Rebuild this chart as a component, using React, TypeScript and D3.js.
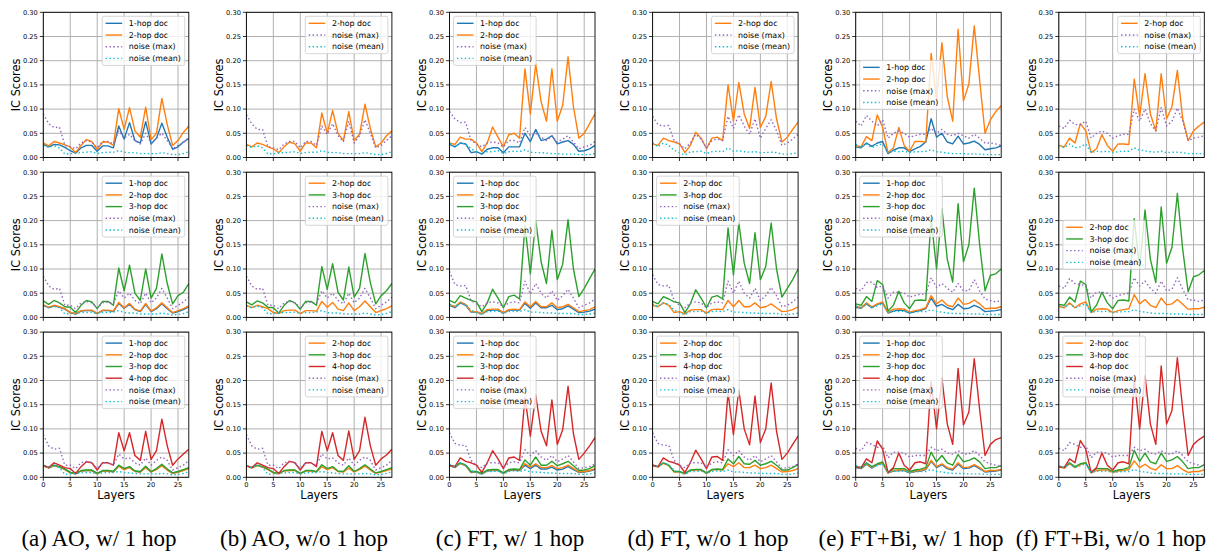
import React from 'react';
import * as d3 from 'd3';

// ---------- categories / ticks ----------
const layers = d3.range(0, 28);
const xTicks = [0, 5, 10, 15, 20, 25];
const yTicks = [0, 0.05, 0.1, 0.15, 0.2, 0.25, 0.3];
const captions = ['(a) AO, w/ 1 hop', '(b) AO, w/o 1 hop', '(c) FT, w/ 1 hop', '(d) FT, w/o 1 hop', '(e) FT+Bi, w/ 1 hop', '(f) FT+Bi, w/o 1 hop'];
const seriesLabels = ['1-hop doc', '2-hop doc', '3-hop doc', '4-hop doc', 'noise (max)', 'noise (mean)'];

// ---------- AO ----------
const ao1_w_h1 = [0.027,0.022,0.027,0.026,0.021,0.014,0.009,0.020,0.025,0.025,0.013,0.024,0.024,0.020,0.065,0.038,0.072,0.035,0.030,0.074,0.028,0.040,0.071,0.042,0.017,0.022,0.032,0.039];
const ao1_w_h2 = [0.030,0.024,0.033,0.030,0.026,0.022,0.010,0.025,0.037,0.033,0.017,0.032,0.032,0.025,0.101,0.058,0.103,0.055,0.042,0.104,0.037,0.050,0.122,0.068,0.025,0.035,0.052,0.065];
const ao1_w_max = [0.090,0.070,0.062,0.063,0.025,0.022,0.018,0.030,0.035,0.032,0.020,0.033,0.033,0.028,0.055,0.040,0.048,0.035,0.028,0.050,0.030,0.040,0.050,0.035,0.018,0.025,0.030,0.042];
const ao1_wo_h2 = [0.027,0.022,0.030,0.027,0.022,0.018,0.010,0.022,0.032,0.028,0.013,0.030,0.030,0.020,0.092,0.050,0.097,0.050,0.035,0.095,0.035,0.048,0.110,0.060,0.022,0.030,0.045,0.055];
const ao1_wo_max = [0.088,0.070,0.058,0.058,0.022,0.020,0.016,0.028,0.033,0.033,0.020,0.033,0.033,0.025,0.065,0.048,0.070,0.045,0.033,0.075,0.030,0.045,0.078,0.050,0.020,0.025,0.035,0.045];
const ao1_mean = [0.025,0.021,0.024,0.020,0.007,0.008,0.009,0.010,0.011,0.012,0.008,0.010,0.011,0.011,0.014,0.011,0.010,0.010,0.008,0.008,0.008,0.008,0.010,0.008,0.006,0.006,0.008,0.012];

const ao2_w_h1 = [0.025,0.020,0.024,0.021,0.017,0.010,0.007,0.013,0.014,0.014,0.008,0.014,0.014,0.012,0.029,0.019,0.027,0.016,0.012,0.027,0.012,0.018,0.028,0.018,0.009,0.012,0.016,0.022];
const ao2_w_h2 = [0.026,0.021,0.025,0.022,0.018,0.010,0.008,0.014,0.015,0.015,0.008,0.015,0.015,0.013,0.031,0.020,0.029,0.017,0.013,0.029,0.013,0.020,0.030,0.020,0.010,0.014,0.018,0.024];
const ao2_w_h3 = [0.034,0.027,0.035,0.030,0.022,0.021,0.010,0.025,0.035,0.032,0.018,0.033,0.033,0.025,0.102,0.055,0.108,0.050,0.035,0.100,0.040,0.060,0.131,0.070,0.028,0.045,0.052,0.070];
const ao2_wo_h2 = [0.025,0.020,0.025,0.022,0.018,0.010,0.008,0.014,0.015,0.015,0.008,0.014,0.014,0.013,0.033,0.021,0.031,0.017,0.014,0.030,0.014,0.022,0.034,0.022,0.010,0.014,0.018,0.024];
const ao2_wo_h3 = [0.032,0.026,0.034,0.030,0.021,0.020,0.009,0.025,0.035,0.030,0.017,0.033,0.033,0.025,0.105,0.058,0.111,0.052,0.036,0.104,0.042,0.060,0.132,0.072,0.028,0.045,0.055,0.070];
const ao2_max = [0.085,0.065,0.058,0.060,0.025,0.025,0.018,0.030,0.033,0.030,0.020,0.030,0.032,0.028,0.055,0.040,0.050,0.035,0.028,0.050,0.030,0.040,0.060,0.040,0.018,0.025,0.032,0.042];
const ao2_mean = [0.024,0.020,0.023,0.020,0.007,0.008,0.009,0.010,0.010,0.011,0.008,0.010,0.010,0.011,0.014,0.010,0.009,0.009,0.007,0.007,0.007,0.007,0.009,0.007,0.005,0.006,0.008,0.012];

const ao3_w_h1 = [0.024,0.020,0.024,0.021,0.017,0.010,0.007,0.013,0.014,0.014,0.008,0.013,0.013,0.012,0.024,0.017,0.021,0.013,0.011,0.022,0.011,0.017,0.025,0.016,0.009,0.011,0.015,0.019];
const ao3_w_h2 = [0.023,0.019,0.024,0.021,0.016,0.009,0.007,0.013,0.014,0.014,0.007,0.013,0.013,0.011,0.023,0.016,0.020,0.012,0.011,0.020,0.011,0.016,0.024,0.015,0.008,0.011,0.014,0.018];
const ao3_w_h3 = [0.024,0.020,0.025,0.022,0.017,0.010,0.008,0.014,0.015,0.015,0.008,0.014,0.014,0.012,0.025,0.018,0.022,0.013,0.012,0.023,0.012,0.018,0.027,0.017,0.009,0.012,0.016,0.020];
const ao3_w_h4 = [0.025,0.020,0.030,0.025,0.020,0.018,0.008,0.022,0.032,0.030,0.015,0.030,0.030,0.025,0.092,0.055,0.092,0.045,0.035,0.095,0.037,0.055,0.120,0.065,0.025,0.038,0.048,0.058];
const ao3_wo_h2 = [0.023,0.019,0.024,0.021,0.016,0.009,0.007,0.013,0.014,0.014,0.007,0.013,0.013,0.011,0.022,0.016,0.020,0.012,0.011,0.019,0.011,0.016,0.023,0.015,0.008,0.011,0.014,0.017];
const ao3_wo_h3 = [0.024,0.020,0.025,0.022,0.017,0.010,0.008,0.014,0.015,0.015,0.008,0.014,0.014,0.012,0.026,0.018,0.022,0.013,0.012,0.024,0.012,0.018,0.026,0.017,0.009,0.012,0.016,0.020];
const ao3_wo_h4 = [0.024,0.020,0.030,0.025,0.020,0.018,0.008,0.022,0.033,0.030,0.015,0.030,0.030,0.022,0.095,0.055,0.092,0.045,0.035,0.096,0.037,0.055,0.124,0.065,0.025,0.038,0.046,0.058];
const ao3_max = [0.088,0.065,0.058,0.060,0.025,0.025,0.018,0.030,0.033,0.030,0.018,0.030,0.030,0.025,0.048,0.038,0.040,0.030,0.025,0.040,0.025,0.035,0.042,0.035,0.015,0.020,0.025,0.035];
const ao3_mean = [0.024,0.020,0.025,0.020,0.006,0.007,0.008,0.009,0.010,0.010,0.007,0.009,0.010,0.010,0.012,0.010,0.009,0.008,0.007,0.007,0.007,0.007,0.008,0.007,0.005,0.006,0.008,0.012];

// ---------- FT ----------
const ft1_w_h1 = [0.027,0.022,0.030,0.028,0.010,0.012,0.007,0.017,0.020,0.020,0.010,0.022,0.022,0.022,0.050,0.033,0.058,0.035,0.038,0.045,0.028,0.032,0.035,0.027,0.013,0.014,0.018,0.025];
const ft1_w_h2 = [0.030,0.027,0.042,0.038,0.038,0.030,0.012,0.030,0.063,0.042,0.022,0.047,0.050,0.040,0.183,0.090,0.193,0.115,0.075,0.183,0.075,0.108,0.208,0.105,0.040,0.050,0.070,0.090];
const ft1_w_max = [0.095,0.080,0.072,0.073,0.035,0.028,0.022,0.030,0.032,0.030,0.022,0.035,0.035,0.030,0.062,0.045,0.050,0.042,0.035,0.045,0.032,0.038,0.045,0.032,0.018,0.022,0.025,0.033];
const ft1_w_mean = [0.030,0.022,0.030,0.028,0.018,0.012,0.007,0.012,0.012,0.014,0.008,0.012,0.013,0.012,0.016,0.011,0.010,0.010,0.009,0.008,0.008,0.007,0.007,0.007,0.006,0.006,0.006,0.008];
const ft1_wo_h2 = [0.028,0.025,0.040,0.035,0.032,0.028,0.010,0.025,0.052,0.040,0.018,0.040,0.042,0.035,0.150,0.075,0.155,0.090,0.060,0.145,0.062,0.085,0.157,0.080,0.032,0.042,0.058,0.073];
const ft1_wo_max = [0.085,0.068,0.065,0.066,0.035,0.028,0.018,0.030,0.048,0.038,0.020,0.035,0.038,0.035,0.085,0.060,0.088,0.065,0.048,0.080,0.040,0.060,0.078,0.055,0.025,0.030,0.038,0.048];
const ft1_wo_mean = [0.030,0.022,0.030,0.025,0.015,0.010,0.005,0.012,0.012,0.013,0.008,0.012,0.013,0.012,0.020,0.013,0.014,0.012,0.011,0.012,0.010,0.010,0.011,0.010,0.007,0.007,0.008,0.010];

const ft2_w_h1 = [0.025,0.020,0.030,0.025,0.011,0.011,0.007,0.014,0.015,0.015,0.009,0.015,0.015,0.015,0.029,0.019,0.030,0.020,0.020,0.025,0.016,0.018,0.024,0.017,0.010,0.011,0.013,0.017];
const ft2_w_h2 = [0.027,0.022,0.032,0.027,0.012,0.012,0.008,0.016,0.017,0.017,0.010,0.016,0.017,0.016,0.032,0.022,0.033,0.022,0.022,0.030,0.020,0.022,0.027,0.020,0.012,0.014,0.016,0.022];
const ft2_w_h3 = [0.035,0.030,0.045,0.040,0.035,0.032,0.012,0.030,0.058,0.040,0.020,0.043,0.046,0.038,0.190,0.090,0.200,0.115,0.070,0.180,0.078,0.110,0.202,0.100,0.043,0.060,0.080,0.100];
const ft2_w_max = [0.095,0.068,0.065,0.066,0.035,0.028,0.022,0.030,0.032,0.030,0.022,0.030,0.032,0.030,0.075,0.048,0.070,0.050,0.040,0.055,0.035,0.045,0.058,0.040,0.020,0.025,0.030,0.038];
const ft2_wo_h2 = [0.025,0.022,0.030,0.025,0.010,0.012,0.007,0.015,0.016,0.016,0.009,0.016,0.017,0.016,0.035,0.022,0.035,0.022,0.022,0.030,0.020,0.022,0.028,0.020,0.012,0.013,0.016,0.022];
const ft2_wo_h3 = [0.033,0.028,0.043,0.038,0.032,0.030,0.010,0.028,0.057,0.040,0.020,0.042,0.045,0.038,0.185,0.088,0.195,0.112,0.070,0.175,0.078,0.105,0.195,0.100,0.042,0.060,0.078,0.100];
const ft2_wo_max = [0.088,0.068,0.065,0.066,0.035,0.025,0.020,0.030,0.032,0.030,0.020,0.030,0.032,0.030,0.075,0.050,0.075,0.050,0.040,0.060,0.035,0.045,0.062,0.045,0.022,0.025,0.032,0.042];
const ft2_mean = [0.028,0.022,0.030,0.027,0.015,0.010,0.006,0.012,0.012,0.013,0.008,0.012,0.013,0.012,0.016,0.011,0.011,0.010,0.009,0.009,0.008,0.008,0.008,0.008,0.006,0.006,0.007,0.009];

const ft3_w_h1 = [0.024,0.020,0.029,0.024,0.010,0.011,0.007,0.013,0.014,0.014,0.008,0.014,0.015,0.014,0.025,0.018,0.025,0.017,0.017,0.021,0.015,0.017,0.022,0.016,0.010,0.011,0.013,0.016];
const ft3_w_h2 = [0.024,0.021,0.029,0.024,0.011,0.011,0.007,0.014,0.015,0.015,0.008,0.015,0.016,0.015,0.028,0.021,0.028,0.020,0.020,0.024,0.018,0.020,0.025,0.018,0.011,0.012,0.014,0.018];
const ft3_w_h3 = [0.025,0.022,0.030,0.025,0.012,0.012,0.008,0.015,0.016,0.016,0.009,0.016,0.017,0.016,0.036,0.025,0.042,0.025,0.025,0.033,0.024,0.028,0.033,0.024,0.014,0.015,0.018,0.024];
const ft3_w_h4 = [0.025,0.022,0.040,0.033,0.030,0.025,0.010,0.030,0.055,0.038,0.018,0.040,0.042,0.035,0.165,0.085,0.170,0.095,0.065,0.160,0.068,0.098,0.188,0.090,0.037,0.050,0.065,0.082];
const ft3_wo_h2 = [0.024,0.021,0.029,0.024,0.011,0.011,0.007,0.014,0.015,0.015,0.008,0.015,0.016,0.015,0.028,0.022,0.030,0.020,0.020,0.025,0.018,0.020,0.025,0.018,0.011,0.012,0.014,0.018];
const ft3_wo_h3 = [0.025,0.022,0.030,0.025,0.012,0.012,0.008,0.015,0.016,0.016,0.009,0.016,0.017,0.016,0.038,0.028,0.043,0.028,0.027,0.035,0.025,0.028,0.033,0.025,0.015,0.015,0.020,0.026];
const ft3_wo_h4 = [0.025,0.022,0.040,0.033,0.030,0.025,0.010,0.030,0.056,0.038,0.018,0.042,0.043,0.035,0.175,0.088,0.180,0.100,0.067,0.168,0.072,0.100,0.195,0.095,0.037,0.050,0.068,0.085];
const ft3_max = [0.092,0.070,0.066,0.066,0.035,0.025,0.020,0.030,0.030,0.030,0.020,0.030,0.032,0.030,0.057,0.045,0.055,0.042,0.035,0.045,0.032,0.038,0.045,0.032,0.018,0.020,0.022,0.028];
const ft3_mean = [0.027,0.022,0.030,0.026,0.014,0.010,0.006,0.012,0.012,0.013,0.008,0.012,0.013,0.012,0.015,0.011,0.011,0.010,0.009,0.009,0.008,0.008,0.008,0.008,0.006,0.006,0.007,0.009];

// ---------- FT+Bi ----------
const fb1_w_h1 = [0.022,0.020,0.030,0.023,0.030,0.033,0.008,0.015,0.020,0.020,0.012,0.018,0.023,0.032,0.080,0.042,0.050,0.032,0.028,0.044,0.028,0.030,0.034,0.027,0.016,0.018,0.020,0.024];
const fb1_w_h2 = [0.025,0.022,0.043,0.035,0.088,0.062,0.010,0.020,0.062,0.025,0.013,0.033,0.033,0.032,0.215,0.120,0.237,0.125,0.075,0.265,0.117,0.152,0.272,0.160,0.050,0.078,0.095,0.107];
const fb1_w_max = [0.075,0.065,0.087,0.075,0.065,0.078,0.040,0.050,0.055,0.050,0.042,0.045,0.048,0.048,0.060,0.050,0.058,0.048,0.045,0.050,0.045,0.040,0.048,0.040,0.030,0.030,0.028,0.025];
const fb1_w_mean = [0.027,0.022,0.028,0.020,0.025,0.028,0.010,0.013,0.012,0.013,0.010,0.012,0.012,0.013,0.016,0.012,0.011,0.009,0.008,0.008,0.008,0.007,0.007,0.007,0.006,0.006,0.006,0.006];
const fb1_wo_h2 = [0.025,0.022,0.040,0.030,0.070,0.055,0.010,0.018,0.047,0.025,0.013,0.028,0.028,0.027,0.162,0.085,0.173,0.090,0.055,0.173,0.080,0.105,0.180,0.080,0.035,0.055,0.065,0.073];
const fb1_wo_max = [0.065,0.060,0.077,0.068,0.068,0.075,0.040,0.050,0.055,0.050,0.040,0.045,0.048,0.048,0.100,0.075,0.100,0.070,0.055,0.103,0.065,0.075,0.102,0.075,0.035,0.040,0.042,0.045];
const fb1_wo_mean = [0.025,0.020,0.028,0.020,0.022,0.028,0.010,0.013,0.012,0.013,0.010,0.012,0.013,0.013,0.020,0.015,0.014,0.012,0.011,0.013,0.010,0.011,0.011,0.010,0.008,0.008,0.008,0.008];

const fb2_w_h1 = [0.021,0.019,0.028,0.020,0.027,0.030,0.009,0.013,0.015,0.014,0.009,0.012,0.014,0.018,0.040,0.023,0.027,0.020,0.016,0.027,0.018,0.019,0.025,0.020,0.012,0.013,0.014,0.016];
const fb2_w_h2 = [0.023,0.020,0.030,0.022,0.028,0.032,0.010,0.017,0.018,0.017,0.011,0.014,0.016,0.020,0.045,0.028,0.036,0.025,0.022,0.040,0.027,0.029,0.036,0.028,0.018,0.019,0.019,0.022];
const fb2_w_h3 = [0.028,0.025,0.043,0.033,0.076,0.068,0.013,0.025,0.054,0.030,0.018,0.035,0.036,0.035,0.205,0.100,0.225,0.120,0.073,0.235,0.115,0.150,0.267,0.150,0.055,0.087,0.090,0.100];
const fb2_w_max = [0.060,0.055,0.072,0.073,0.062,0.065,0.040,0.052,0.052,0.050,0.042,0.045,0.048,0.048,0.082,0.062,0.070,0.060,0.052,0.070,0.055,0.055,0.078,0.055,0.038,0.035,0.032,0.035];
const fb2_wo_h2 = [0.023,0.020,0.030,0.020,0.028,0.032,0.010,0.017,0.018,0.017,0.010,0.014,0.016,0.018,0.047,0.028,0.037,0.025,0.020,0.040,0.026,0.028,0.037,0.027,0.017,0.018,0.018,0.021];
const fb2_wo_h3 = [0.027,0.025,0.042,0.032,0.075,0.068,0.012,0.025,0.052,0.030,0.018,0.035,0.036,0.034,0.204,0.100,0.222,0.120,0.072,0.228,0.112,0.145,0.256,0.140,0.053,0.084,0.088,0.097];
const fb2_wo_max = [0.065,0.060,0.080,0.070,0.068,0.065,0.040,0.052,0.052,0.050,0.040,0.045,0.048,0.050,0.082,0.065,0.075,0.060,0.050,0.075,0.055,0.058,0.082,0.058,0.036,0.036,0.033,0.036];
const fb2_mean = [0.024,0.020,0.028,0.020,0.024,0.028,0.010,0.013,0.012,0.013,0.010,0.011,0.012,0.012,0.016,0.012,0.011,0.009,0.008,0.008,0.008,0.007,0.007,0.007,0.006,0.006,0.006,0.006];

const fb3_w_h1 = [0.020,0.018,0.027,0.019,0.026,0.029,0.009,0.013,0.014,0.014,0.009,0.012,0.013,0.016,0.033,0.020,0.026,0.018,0.015,0.027,0.018,0.019,0.024,0.018,0.011,0.012,0.013,0.015];
const fb3_w_h2 = [0.021,0.019,0.028,0.020,0.027,0.030,0.009,0.014,0.015,0.015,0.010,0.013,0.014,0.017,0.035,0.022,0.028,0.020,0.017,0.030,0.020,0.021,0.026,0.020,0.012,0.014,0.014,0.016];
const fb3_w_h3 = [0.022,0.020,0.030,0.022,0.028,0.032,0.010,0.018,0.018,0.018,0.012,0.015,0.017,0.020,0.052,0.032,0.045,0.030,0.025,0.047,0.032,0.035,0.040,0.032,0.018,0.020,0.020,0.024];
const fb3_w_h4 = [0.022,0.020,0.038,0.030,0.075,0.058,0.010,0.020,0.050,0.025,0.015,0.030,0.032,0.028,0.198,0.100,0.205,0.110,0.068,0.225,0.108,0.135,0.245,0.140,0.045,0.068,0.078,0.082];
const fb3_wo_h2 = [0.021,0.019,0.028,0.020,0.026,0.030,0.009,0.014,0.015,0.015,0.010,0.013,0.014,0.016,0.034,0.020,0.027,0.019,0.015,0.026,0.018,0.018,0.024,0.016,0.010,0.012,0.012,0.016];
const fb3_wo_h3 = [0.022,0.020,0.030,0.022,0.028,0.030,0.010,0.018,0.018,0.018,0.012,0.015,0.017,0.020,0.056,0.033,0.050,0.032,0.028,0.050,0.033,0.036,0.043,0.032,0.018,0.020,0.020,0.026];
const fb3_wo_h4 = [0.022,0.020,0.038,0.030,0.076,0.058,0.010,0.020,0.050,0.025,0.015,0.030,0.032,0.028,0.205,0.100,0.210,0.110,0.068,0.230,0.110,0.138,0.247,0.140,0.045,0.068,0.078,0.085];
const fb3_max = [0.060,0.055,0.072,0.068,0.062,0.065,0.040,0.052,0.052,0.050,0.042,0.045,0.045,0.045,0.062,0.055,0.058,0.050,0.048,0.055,0.048,0.048,0.055,0.045,0.032,0.028,0.025,0.022];
const fb3_mean = [0.024,0.020,0.028,0.020,0.024,0.028,0.010,0.013,0.012,0.013,0.010,0.011,0.012,0.012,0.016,0.012,0.011,0.009,0.008,0.008,0.008,0.007,0.007,0.007,0.006,0.006,0.006,0.006];

// ---------- styling ----------
const COLORS = ['#1f77b4', '#ff7f0e', '#2ca02c', '#d62728', '#9467bd', '#17becf'];
const FONT = '"DejaVu Sans", sans-serif';

type Series = { k: number; v: number[] };
type PanelDef = { row: number; col: number; loc: 'ur' | 'ul' | 'cl'; series: Series[] };

const S = (k: number, v: number[]): Series => ({ k, v });

const panels: PanelDef[] = [
  { row: 0, col: 0, loc: 'ur', series: [S(0, ao1_w_h1), S(1, ao1_w_h2), S(4, ao1_w_max), S(5, ao1_mean)] },
  { row: 0, col: 1, loc: 'ur', series: [S(1, ao1_wo_h2), S(4, ao1_wo_max), S(5, ao1_mean)] },
  { row: 0, col: 2, loc: 'ul', series: [S(0, ft1_w_h1), S(1, ft1_w_h2), S(4, ft1_w_max), S(5, ft1_w_mean)] },
  { row: 0, col: 3, loc: 'ur', series: [S(1, ft1_wo_h2), S(4, ft1_wo_max), S(5, ft1_wo_mean)] },
  { row: 0, col: 4, loc: 'cl', series: [S(0, fb1_w_h1), S(1, fb1_w_h2), S(4, fb1_w_max), S(5, fb1_w_mean)] },
  { row: 0, col: 5, loc: 'ur', series: [S(1, fb1_wo_h2), S(4, fb1_wo_max), S(5, fb1_wo_mean)] },

  { row: 1, col: 0, loc: 'ur', series: [S(0, ao2_w_h1), S(1, ao2_w_h2), S(2, ao2_w_h3), S(4, ao2_max), S(5, ao2_mean)] },
  { row: 1, col: 1, loc: 'ur', series: [S(1, ao2_wo_h2), S(2, ao2_wo_h3), S(4, ao2_max), S(5, ao2_mean)] },
  { row: 1, col: 2, loc: 'ul', series: [S(0, ft2_w_h1), S(1, ft2_w_h2), S(2, ft2_w_h3), S(4, ft2_w_max), S(5, ft2_mean)] },
  { row: 1, col: 3, loc: 'ul', series: [S(1, ft2_wo_h2), S(2, ft2_wo_h3), S(4, ft2_wo_max), S(5, ft2_mean)] },
  { row: 1, col: 4, loc: 'ul', series: [S(0, fb2_w_h1), S(1, fb2_w_h2), S(2, fb2_w_h3), S(4, fb2_w_max), S(5, fb2_mean)] },
  { row: 1, col: 5, loc: 'cl', series: [S(1, fb2_wo_h2), S(2, fb2_wo_h3), S(4, fb2_wo_max), S(5, fb2_mean)] },

  { row: 2, col: 0, loc: 'ur', series: [S(0, ao3_w_h1), S(1, ao3_w_h2), S(2, ao3_w_h3), S(3, ao3_w_h4), S(4, ao3_max), S(5, ao3_mean)] },
  { row: 2, col: 1, loc: 'ur', series: [S(1, ao3_wo_h2), S(2, ao3_wo_h3), S(3, ao3_wo_h4), S(4, ao3_max), S(5, ao3_mean)] },
  { row: 2, col: 2, loc: 'ul', series: [S(0, ft3_w_h1), S(1, ft3_w_h2), S(2, ft3_w_h3), S(3, ft3_w_h4), S(4, ft3_max), S(5, ft3_mean)] },
  { row: 2, col: 3, loc: 'ul', series: [S(1, ft3_wo_h2), S(2, ft3_wo_h3), S(3, ft3_wo_h4), S(4, ft3_max), S(5, ft3_mean)] },
  { row: 2, col: 4, loc: 'ul', series: [S(0, fb3_w_h1), S(1, fb3_w_h2), S(2, fb3_w_h3), S(3, fb3_w_h4), S(4, fb3_max), S(5, fb3_mean)] },
  { row: 2, col: 5, loc: 'ul', series: [S(1, fb3_wo_h2), S(2, fb3_wo_h3), S(3, fb3_wo_h4), S(4, fb3_max), S(5, fb3_mean)] },
];

// ---------- layout ----------
const PW = 145.5;
const PH = 145.2;
const colLeft = (c: number) => 43.3 + c * 203.1;
const rowTop = (r: number) => 12.3 + r * 159.9;
const captionX = [99, 304, 510, 708, 911, 1111];
const LEG_W = 82.6;
const LEG_ROW = 11.7;

const dashFor = (k: number) => (k >= 4 ? '1.5,2.4' : undefined);

function Panel({ p }: { p: PanelDef }) {
  const left = colLeft(p.col);
  const top = rowTop(p.row);
  const x = d3.scaleLinear().domain([0, 27]).range([left, left + PW]);
  const y = d3.scaleLinear().domain([0, 0.3]).range([top + PH, top]);
  const line = d3.line<number>().x((_, i) => x(layers[i])).y((d) => y(d));
  const clipId = `clip-${p.row}-${p.col}`;
  const n = p.series.length;
  const legH = (n - 1) * LEG_ROW + 14;
  const bx = p.loc === 'ur' ? left + PW - 4 - LEG_W : left + 4;
  const by = p.loc === 'cl' ? top + PH / 2 - legH / 2 : top + 4;
  const bottom = top + PH;
  return (
    <g>
      <defs>
        <clipPath id={clipId}>
          <rect x={left} y={top} width={PW} height={PH} />
        </clipPath>
      </defs>
      {/* grid */}
      {xTicks.map((t) => (
        <line key={'gx' + t} x1={x(t)} x2={x(t)} y1={top} y2={bottom} stroke="#b0b0b0" strokeWidth={1} />
      ))}
      {yTicks.map((t) => (
        <line key={'gy' + t} x1={left} x2={left + PW} y1={y(t)} y2={y(t)} stroke="#b0b0b0" strokeWidth={1} />
      ))}
      {/* lines */}
      <g clipPath={`url(#${clipId})`}>
        {p.series.map((s, i) => (
          <path key={i} d={line(s.v) || ''} fill="none" stroke={COLORS[s.k]} strokeWidth={1.4}
            strokeDasharray={dashFor(s.k)} strokeLinejoin="round" />
        ))}
      </g>
      {/* spines */}
      <rect x={left} y={top} width={PW} height={PH} fill="none" stroke="#000" strokeWidth={0.9} />
      {/* y ticks */}
      {yTicks.map((t) => (
        <g key={'ty' + t}>
          <line x1={left - 3.5} x2={left} y1={y(t)} y2={y(t)} stroke="#000" strokeWidth={0.8} />
          <text x={left - 5.5} y={y(t)} dy="0.35em" textAnchor="end" fontSize={6.7} fontFamily={FONT} fill="#000">
            {d3.format('.2f')(t)}
          </text>
        </g>
      ))}
      {/* x ticks */}
      {xTicks.map((t) => (
        <g key={'tx' + t}>
          <line x1={x(t)} x2={x(t)} y1={bottom} y2={bottom + 3.5} stroke="#000" strokeWidth={0.8} />
          {p.row === 2 && (
            <text x={x(t)} y={bottom + 9.4} textAnchor="middle" fontSize={6.7} fontFamily={FONT} fill="#000">
              {t}
            </text>
          )}
        </g>
      ))}
      {/* y label */}
      <text transform={`translate(${left - 23.3},${top + PH / 2}) rotate(-90)`} textAnchor="middle"
        fontSize={11.4} fontFamily={FONT} fill="#000">IC Scores</text>
      {p.row === 2 && (
        <text x={left + PW / 2} y={bottom + 21.8} textAnchor="middle" fontSize={11.4} fontFamily={FONT} fill="#000">
          Layers
        </text>
      )}
      {/* legend */}
      <g>
        <rect x={bx} y={by} width={LEG_W} height={legH} rx={2} ry={2} fill="#fff" fillOpacity={0.8}
          stroke="#cccccc" strokeWidth={0.8} />
        {p.series.map((s, i) => {
          const cy = by + 7 + i * LEG_ROW;
          return (
            <g key={'lg' + i}>
              <line x1={bx + 3.4} x2={bx + 20} y1={cy} y2={cy} stroke={COLORS[s.k]} strokeWidth={1.4}
                strokeDasharray={dashFor(s.k)} />
              <text x={bx + 26.6} y={cy} dy="0.35em" fontSize={7.9} fontFamily={FONT} fill="#000">
                {seriesLabels[s.k]}
              </text>
            </g>
          );
        })}
      </g>
    </g>
  );
}

export default function App() {
  return (
    <svg width={1210} height={554} viewBox="0 0 1210 554"
      style={{ position: 'absolute', left: 0, top: 0, background: '#fff' }}>
      <rect x={0} y={0} width={1210} height={554} fill="#fff" />
      {panels.map((p, i) => (
        <Panel key={i} p={p} />
      ))}
      {captions.map((c, i) => (
        <text key={c} x={captionX[i]} y={546} textAnchor="middle" fontSize={i === 5 ? 22.6 : 23}
          fontFamily='"Liberation Serif", "Times New Roman", serif' fill="#000">
          {c}
        </text>
      ))}
    </svg>
  );
}
